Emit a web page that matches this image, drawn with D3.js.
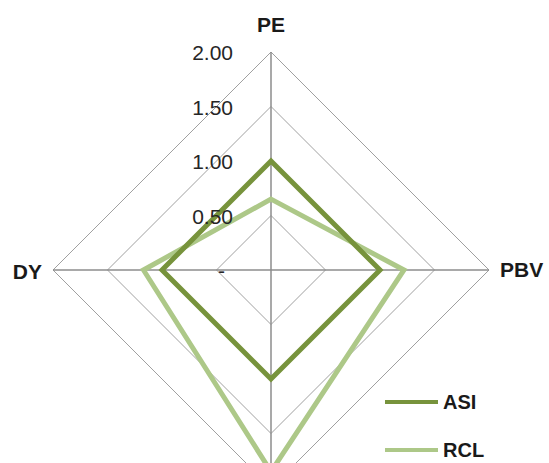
<!DOCTYPE html>
<html>
<head>
<meta charset="utf-8">
<script src="https://cdn.jsdelivr.net/npm/d3@7"></script>
<style>
  html, body { margin: 0; padding: 0; background: #fff; overflow: hidden; }
  svg { display: block; font-family: "Liberation Sans", Arial, sans-serif; }
</style>
</head>
<body>
<svg id="chart" width="549" height="463"></svg>
<script>
// Radar axes, clockwise from the top
const categories = ["PE", "PBV", "", "DY"];

// Series values per axis
const seriesNames = ["ASI", "RCL"];
const asiValues = [1.00, 1.00, 1.00, 1.00];
const rclValues = [0.65, 1.22, 1.85, 1.17];

// Radial ticks and their printed labels
const tickValues = [0, 0.5, 1.0, 1.5, 2.0];
const tickLabels = ["-", "0.50", "1.00", "1.50", "2.00"];

const colors = { ASI: "#77933C", RCL: "#ADC888" };
const series = [
  { name: "RCL", values: rclValues },
  { name: "ASI", values: asiValues }
];

const svg = d3.select("#chart");
const cx = 271, cy = 270;

const r = d3.scaleLinear().domain([0, 2]).range([0, 218]);
const angle = d3.scalePoint()
  .domain(d3.range(categories.length))
  .range([0, 2 * Math.PI * (categories.length - 1) / categories.length]);

const g = svg.append("g").attr("transform", `translate(${cx},${cy})`);

const radial = d3.lineRadial()
  .angle((d, i) => angle(i))
  .radius(d => r(d))
  .curve(d3.curveLinearClosed);

// Concentric grid polygons
g.append("g").selectAll("path")
  .data(tickValues.filter(v => v > 0))
  .join("path")
  .attr("d", v => radial(categories.map(() => v)))
  .attr("fill", "none")
  .attr("stroke", "#a0a0a0")
  .attr("stroke-width", 1);

// Spokes
g.append("g").selectAll("line")
  .data(categories)
  .join("line")
  .attr("x1", 0).attr("y1", 0)
  .attr("x2", (d, i) => r(2) * Math.sin(angle(i)))
  .attr("y2", (d, i) => -r(2) * Math.cos(angle(i)))
  .attr("stroke", "#8c8c8c")
  .attr("stroke-width", 1.5);

// Series outlines (darker series drawn last, on top)
g.append("g").selectAll("path")
  .data(series)
  .join("path")
  .attr("d", s => radial(s.values))
  .attr("fill", "none")
  .attr("stroke", s => colors[s.name])
  .attr("stroke-width", 5)
  .attr("stroke-linejoin", "miter");

// Radial tick labels along the top spoke
g.append("g").selectAll("text")
  .data(tickValues)
  .join("text")
  .attr("x", v => (v === 0 ? -46 : -38))
  .attr("y", v => -r(v) + 1)
  .attr("dy", "0.35em")
  .attr("text-anchor", "end")
  .attr("fill", "#262626")
  .attr("font-size", 21)
  .text((v, i) => tickLabels[i]);

// Category labels
const labelOffset = [
  { dx: 0, dy: -27, anchor: "middle" },
  { dx: 11, dy: 0, anchor: "start" },
  { dx: 0, dy: 26, anchor: "middle" },
  { dx: -11, dy: 2, anchor: "end" }
];
const named = categories.map((name, i) => ({ name, i })).filter(d => d.name !== "");
g.append("g").selectAll("text")
  .data(named)
  .join("text")
  .attr("x", d => r(2) * Math.sin(angle(d.i)) + labelOffset[d.i].dx)
  .attr("y", d => -r(2) * Math.cos(angle(d.i)) + labelOffset[d.i].dy)
  .attr("dy", "0.35em")
  .attr("text-anchor", d => labelOffset[d.i].anchor)
  .attr("font-weight", "bold")
  .attr("font-size", 21)
  .attr("fill", "#1a1a1a")
  .text(d => d.name);

// Legend
const legend = svg.append("g").attr("transform", "translate(385,402)");
const item = legend.selectAll("g")
  .data(seriesNames)
  .join("g")
  .attr("transform", (d, i) => `translate(0,${i * 48})`);
item.append("line")
  .attr("x1", 0).attr("x2", 53)
  .attr("y1", 0).attr("y2", 0)
  .attr("stroke", d => colors[d])
  .attr("stroke-width", 4);
item.append("text")
  .attr("x", 58)
  .attr("dy", "0.35em")
  .attr("font-weight", "bold")
  .attr("font-size", 20)
  .attr("fill", "#1a1a1a")
  .text(d => d);
</script>
</body>
</html>
